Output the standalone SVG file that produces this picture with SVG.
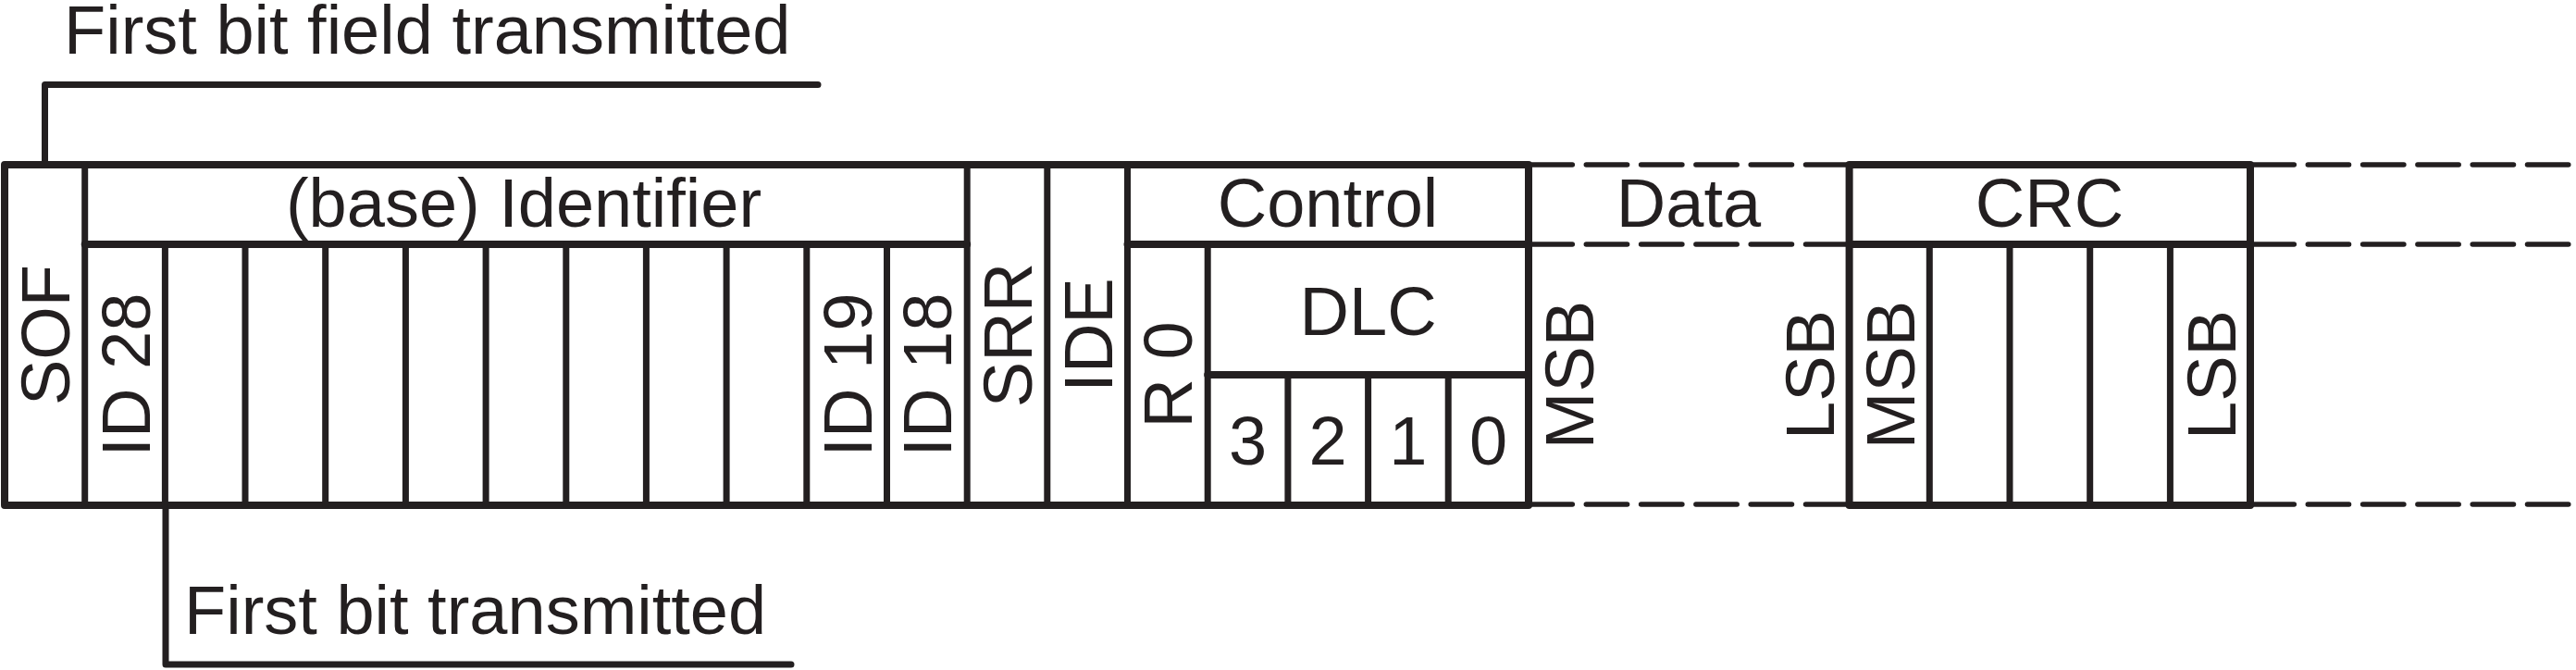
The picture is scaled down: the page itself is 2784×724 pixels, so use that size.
<svg xmlns="http://www.w3.org/2000/svg" width="2784" height="724" viewBox="0 0 2784 724">
<style>
.ln{stroke:#231f20;stroke-width:7;fill:none;stroke-linecap:round;stroke-linejoin:round}
.th{stroke:#231f20;stroke-width:8;fill:none;stroke-linecap:round;stroke-linejoin:round}
.ds{stroke:#231f20;stroke-width:5.5;fill:none;stroke-linecap:round;stroke-dasharray:44.3 15}
text{font-family:"Liberation Sans",Arial,sans-serif;font-size:74px;fill:#231f20}
.m{text-anchor:middle}
</style>
<rect width="2784" height="724" fill="#ffffff"/>
<g id="connectors">
<path class="ln" d="M48.5,178 V91.5 H884"/>
<path class="ln" d="M179,546 V718 H855"/>
</g>
<g id="label-first-field"><text x="69" y="58">First bit field transmitted</text></g>
<g id="label-first-bit"><text x="199" y="685">First bit transmitted</text></g>
<g id="frame">
<path class="th" d="M5,178 H1652 M5,546 H1652 M5,178 V546 M1652,178 V546"/>
</g>
<g id="sof">
<path class="ln" d="M91.7,178 V546"/>
<text class="m" transform="translate(75,362) rotate(-90)">SOF</text>
</g>
<g id="identifier">
<path class="th" d="M91.7,264 H1045.2"/>
<path class="ln" d="M178.4,264 V546 M265,264 V546 M351.7,264 V546 M438.4,264 V546 M525.1,264 V546 M611.8,264 V546 M698.4,264 V546 M785.1,264 V546 M871.8,264 V546 M958.5,264 V546"/>
<text class="m" x="566" y="245">(base) Identifier</text>
<text class="m" transform="translate(161.5,405) rotate(-90)">ID 28</text>
<text class="m" transform="translate(941.7,405) rotate(-90)">ID 19</text>
<text class="m" transform="translate(1028.4,405) rotate(-90)">ID 18</text>
</g>
<g id="srr">
<path class="ln" d="M1045.2,178 V546"/>
<text class="m" transform="translate(1115,362) rotate(-90)">SRR</text>
</g>
<g id="ide">
<path class="ln" d="M1131.8,178 V546"/>
<text class="m" transform="translate(1201.7,362) rotate(-90)">IDE</text>
</g>
<g id="control">
<path class="ln" d="M1218.5,178 V546"/>
<path class="th" d="M1218.5,264 H1652"/>
<path class="ln" d="M1305.2,264 V546"/>
<text class="m" x="1435" y="245">Control</text>
<text class="m" transform="translate(1288.4,405) rotate(-90)">R 0</text>
</g>
<g id="dlc">
<path class="th" d="M1305.2,405 H1652"/>
<path class="ln" d="M1391.9,405 V546 M1478.6,405 V546 M1565.2,405 V546"/>
<text class="m" x="1478.6" y="362">DLC</text>
<text class="m" x="1348.5" y="502">3</text>
<text class="m" x="1435.2" y="502">2</text>
<text class="m" x="1521.9" y="502">1</text>
<text class="m" x="1608.6" y="502">0</text>
</g>
<g id="data">
<path class="ds" d="M1655,178 H1997 M1655,264 H1997 M1655,545 H1997"/>
<text class="m" x="1825" y="245">Data</text>
<text class="m" transform="translate(1722,405) rotate(-90)">MSB</text>
<text class="m" transform="translate(1982,405) rotate(-90)">LSB</text>
</g>
<g id="crc">
<path class="th" d="M1998.6,178 H2432 V546 H1998.6 Z"/>
<path class="th" d="M1998.6,264 H2432"/>
<path class="ln" d="M2085.3,264 V546 M2172,264 V546 M2258.7,264 V546 M2345.4,264 V546"/>
<text class="m" x="2215" y="245">CRC</text>
<text class="m" transform="translate(2069,405) rotate(-90)">MSB</text>
<text class="m" transform="translate(2415.5,405) rotate(-90)">LSB</text>
</g>
<g id="tail">
<path class="ds" d="M2435,178 H2784 M2435,264 H2784 M2435,545 H2784"/>
</g>
</svg>
